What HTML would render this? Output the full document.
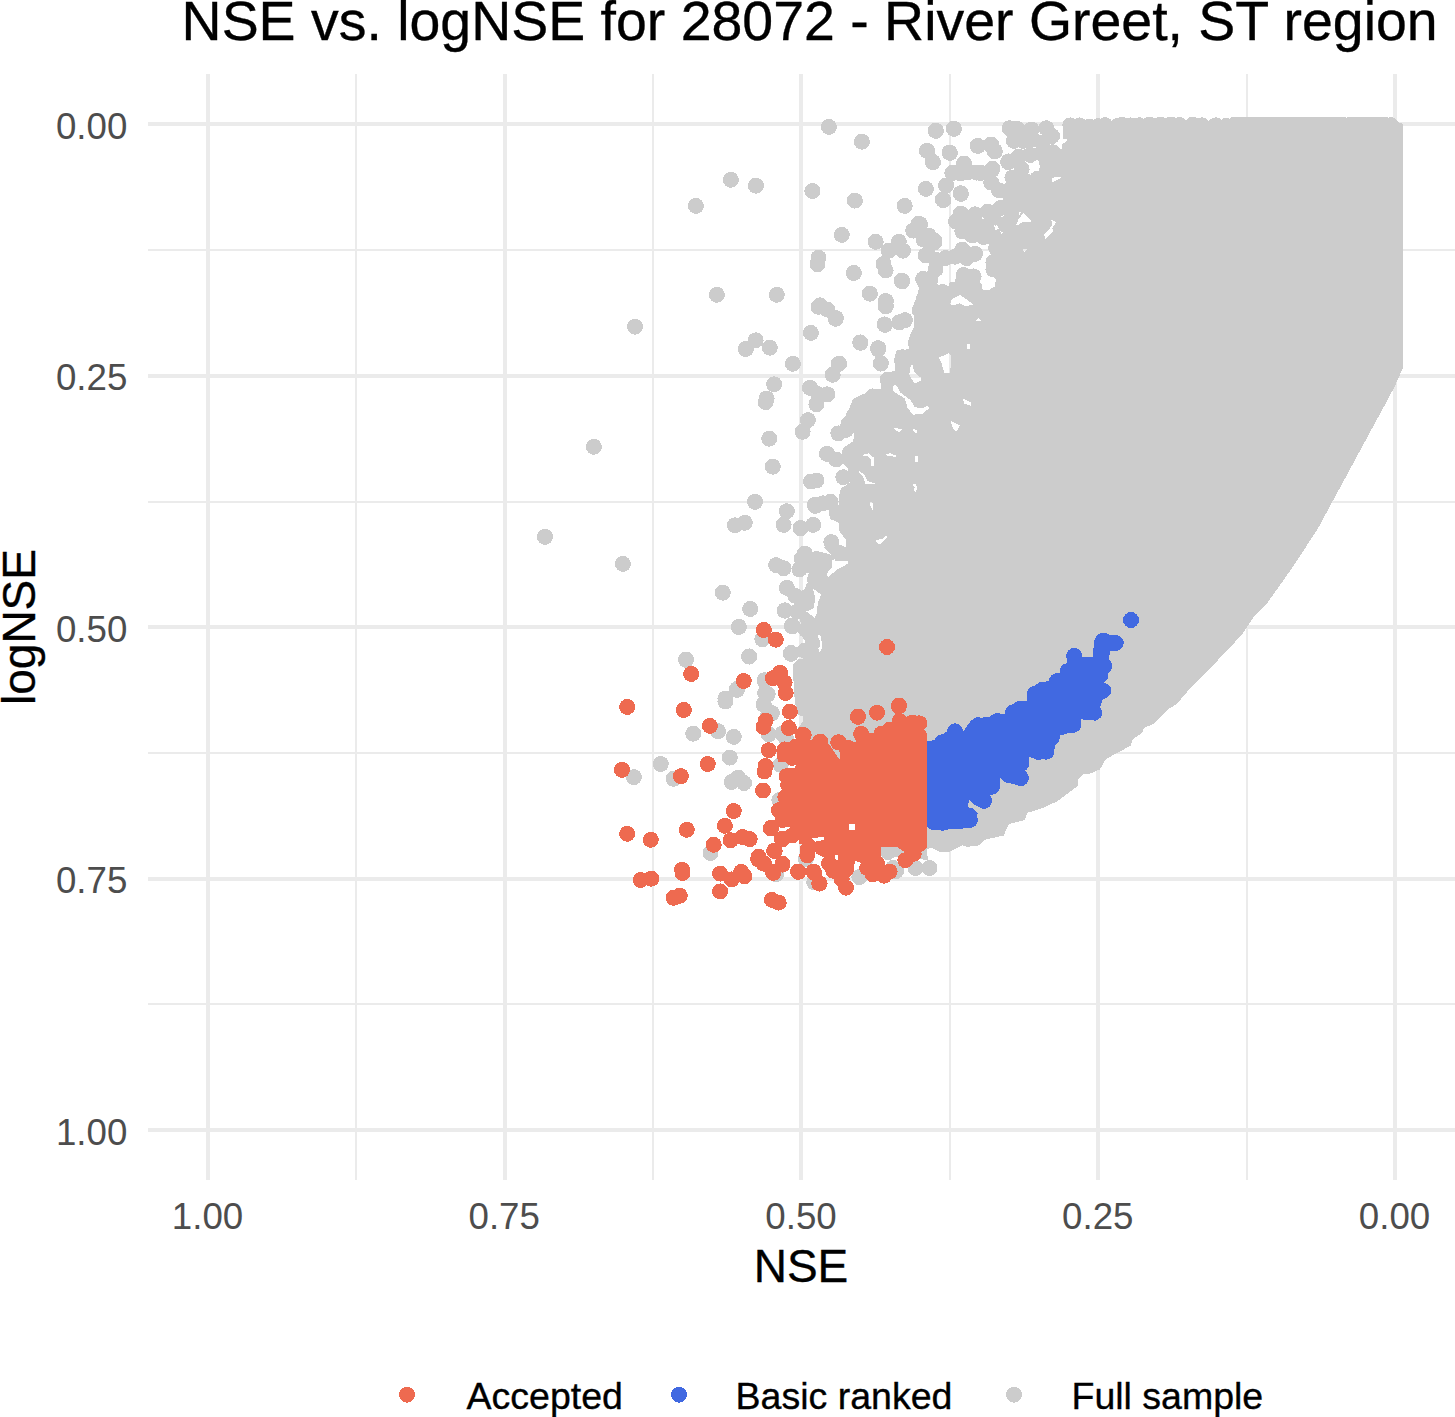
<!DOCTYPE html>
<html><head><meta charset="utf-8"><title>NSE vs. logNSE</title>
<style>
html,body{margin:0;padding:0;background:#fff}
body{width:1455px;height:1417px;position:relative;overflow:hidden;font-family:"Liberation Sans",sans-serif}
.t{position:absolute;white-space:nowrap;line-height:1;font-family:"Liberation Sans",sans-serif}
.k{-webkit-text-stroke:0.35px #000}
</style></head><body>
<svg width="1455" height="1417" viewBox="0 0 1455 1417" style="position:absolute;left:0;top:0">
<g shape-rendering="crispEdges" fill="#EBEBEB">
<rect x="355" y="74" width="2" height="1106"/>
<rect x="652" y="74" width="2" height="1106"/>
<rect x="949" y="74" width="2" height="1106"/>
<rect x="1246" y="74" width="2" height="1106"/>
<rect x="148" y="249" width="1307" height="2"/>
<rect x="148" y="501" width="1307" height="2"/>
<rect x="148" y="752" width="1307" height="2"/>
<rect x="148" y="1003" width="1307" height="2"/>
<rect x="206" y="74" width="4" height="1106"/>
<rect x="503" y="74" width="4" height="1106"/>
<rect x="799" y="74" width="4" height="1106"/>
<rect x="1096" y="74" width="4" height="1106"/>
<rect x="1393" y="74" width="4" height="1106"/>
<rect x="148" y="122" width="1307" height="4"/>
<rect x="148" y="374" width="1307" height="4"/>
<rect x="148" y="625" width="1307" height="4"/>
<rect x="148" y="877" width="1307" height="4"/>
<rect x="148" y="1128" width="1307" height="4"/>
</g>
<g shape-rendering="crispEdges">
<defs><mask id="gm" maskUnits="userSpaceOnUse" x="0" y="0" width="1455" height="1417"><rect x="0" y="0" width="1455" height="1417" fill="#fff"/><path fill="#000" shape-rendering="crispEdges" d="M950.1,304.0 L952.9,298.3 L960.0,294.8 L967.0,299.8 L973.4,304.7 L965.6,306.1 L960.0,303.3 L952.9,305.4Z M938.8,357.6 L948.7,353.4 L951.5,356.2 L950.1,373.2 L944.4,373.2 L941.6,363.3Z M910.6,366.1 L912.7,364.7 L914.1,371.7 L920.5,377.4 L920.5,380.9 L914.8,383.7 L911.3,378.8 L909.2,374.6Z M892.9,385.9 L895.8,384.4 L900.7,392.9 L910.6,400.0 L914.8,407.0 L921.9,408.4 L927.5,405.6 L929.6,407.7 L923.3,413.4 L913.4,414.8 L907.7,408.4 L904.9,398.6 L893.6,391.5Z M950.8,421.1 L960.0,425.4 L956.4,431.7 L952.9,428.2Z M962.8,398.6 L971.3,402.8 L970.6,405.6 L964.2,403.5Z M981.1,282.8 L984.0,280.0 L995.3,280.0 L989.6,285.6 L985.4,289.9Z M860.9,455.3 L868.7,453.2 L874.3,458.1 L873.6,465.9 L871.5,465.9 L870.8,459.5 L867.3,456.0Z M857.4,470.1 L864.4,474.3 L867.3,480.7 L876.4,484.2 L865.2,483.5 L863.7,477.9Z M869.4,502.6 L872.2,501.2 L873.6,510.3 L872.2,510.3Z M875.0,540.7 L882.8,538.6 L886.3,535.0 L887.0,537.1 L880.0,544.9Z M885.6,454.6 L889.9,453.2 L895.5,455.3 L895.5,456.7 L887.0,456.0Z M915.3,456.0 L917.8,456.0 L917.8,461.6 L915.3,461.6Z M912.4,484.2 L915.3,483.5 L917.0,487.7 L916.0,492.0 L914.1,491.3 L914.6,487.0Z M894.1,427.8 L902.6,429.2 L899.0,432.0 L894.8,429.9Z M912.4,429.2 L917.4,429.9 L916.0,434.1Z M1023.5,213.4 L1032.0,221.2 L1027.7,221.2 L1021.4,222.6 L1016.4,226.1 L1017.9,221.2Z M1050.3,219.1 L1056.0,221.9 L1051.7,229.6 L1045.4,238.1 L1044.0,234.6 L1049.6,228.9 L1053.1,223.3Z M993.9,225.4 L998.8,226.1 L996.0,229.9Z M1022.1,248.7 L1027.0,249.4 L1024.2,252.2Z M950.1,304.4 L951.5,300.2 L959.3,295.3 L966.3,299.5 L973.4,304.4 L964.9,306.6 L960.7,303.0Z M967.0,344.0 L969.9,344.0 L969.9,349.6 L967.0,348.9Z M975.5,321.4 L978.3,317.9 L981.2,321.1Z M1051.3,179.0 L1055.5,176.9 L1061.1,176.9 L1059.7,179.0 L1052.7,181.9Z M1023.7,212.9 L1031.5,221.4 L1018.8,222.8 L1016.0,225.6 L1018.8,218.6Z M1050.6,219.3 L1056.2,222.1 L1052.7,224.2Z M1052.7,229.1 L1053.4,231.3 L1045.6,239.0 L1044.2,234.1Z M994.1,226.3 L996.9,224.9 L999.0,229.1 L995.5,229.9Z M1061.1,138.8 L1066.8,139.5 L1066.1,142.3 L1061.8,143.0Z M1060.2,119.1 L1062.1,119.1 L1062.6,132.5 L1060.4,133.2Z M1001.2,179.0 L1004.7,169.2 L1006.8,170.6 L1004.7,176.9Z M812.7,588.2 L821.2,594.6 L817.6,603.7 L817.3,612.9 L814.8,617.9 L806.3,611.5 L813.4,608.7 L815.5,598.8Z M836.0,561.8 L848.4,563.5 L838.1,568.9 L828.2,576.9 L826.4,573.7 L833.4,566.3Z M811.3,546.3 L823.3,547.3 L826.1,550.1 L832.4,555.3 L819.0,551.1Z"/></mask></defs>
<g mask="url(#gm)">
<polygon fill="#CCCCCC" points="1062.5,121.0 1395.0,121.0 1403.0,124.0 1403.0,367.5 1395.2,385.5 1385.7,403.5 1374.1,424.7 1359.2,452.2 1345.5,477.6 1331.7,503.0 1318.0,528.4 1304.2,549.6 1291.5,568.7 1276.7,589.8 1266.1,604.7 1253.4,617.4 1242.6,633.9 1226.8,650.8 1204.2,674.5 1188.4,690.3 1180.0,700.2 1176.2,704.4 1169.1,708.7 1162.1,715.7 1155.0,722.8 1143.7,728.4 1142.3,732.7 1132.4,739.7 1131.0,745.4 1121.1,751.0 1112.7,755.3 1105.6,759.5 1100.0,769.4 1090.1,773.6 1083.5,774.1 1078.5,779.0 1077.8,786.1 1068.0,793.2 1056.7,801.6 1041.1,808.7 1027.0,812.9 1024.9,820.0 1008.7,824.2 1003.7,835.5 984.7,839.7 979.0,845.4 967.7,846.8 962.1,845.4 949.4,851.7 940.9,852.4 931.0,847.5 926.8,849.6 928.0,860.0 880.0,855.0 870.0,840.0 845.0,815.0 815.0,800.0 800.0,760.0 799.0,742.3 796.9,729.6 803.3,721.1 803.3,716.9 797.6,714.1 794.8,701.4 793.4,678.8 792.7,664.7 799.0,659.0 818.8,656.2 822.3,646.3 820.9,636.5 817.4,633.6 816.0,625.0 815.8,620.0 816.5,607.7 821.4,594.3 827.7,586.5 827.7,576.7 836.2,566.8 847.5,562.6 847.5,561.1 834.8,561.1 834.8,555.5 846.1,547.0 846.1,540.0 840.5,532.9 839.0,523.0 829.9,518.8 829.2,510.3 839.0,504.7 839.7,490.6 844.7,486.3 850.3,482.1 847.5,468.0 841.9,462.3 842.6,448.2 853.2,441.2 854.6,432.7 850.3,425.6 858.8,420.0 843.5,419.7 845.6,415.5 849.9,407.0 852.7,400.0 862.6,394.3 883.8,391.5 880.2,381.6 882.3,376.0 895.0,370.3 894.3,359.0 896.5,350.6 909.2,349.2 907.7,342.1 910.6,333.6 914.1,326.6 914.1,316.7 912.0,308.2 916.9,296.9 919.0,288.5 916.9,280.0 917.0,281.0 936.0,281.0 940.0,288.0 948.0,288.0 950.0,282.0 980.0,282.0 983.0,290.0 994.0,290.0 996.0,280.0 990.0,270.0 995.0,240.0 1020.0,215.0 1030.0,180.0 1062.5,165.0"/>
<g fill="#CCCCCC"><circle cx="730.9" cy="179.8" r="8"/><circle cx="755.9" cy="185.7" r="8"/><circle cx="695.9" cy="205.9" r="8"/><circle cx="812.4" cy="191.0" r="8"/><circle cx="716.9" cy="294.8" r="8"/><circle cx="776.8" cy="294.8" r="8"/><circle cx="635.0" cy="326.7" r="8"/><circle cx="755.6" cy="340.3" r="8"/><circle cx="745.9" cy="349.0" r="8"/><circle cx="769.8" cy="347.7" r="8"/><circle cx="792.9" cy="363.8" r="8"/><circle cx="810.9" cy="332.9" r="8"/><circle cx="818.5" cy="257.7" r="8"/><circle cx="817.5" cy="264.1" r="8"/><circle cx="818.5" cy="306.8" r="8"/><circle cx="774.1" cy="384.3" r="8"/><circle cx="766.6" cy="398.5" r="8"/><circle cx="810.0" cy="387.9" r="8"/><circle cx="818.5" cy="394.3" r="8"/><circle cx="828.9" cy="126.9" r="8"/><circle cx="861.9" cy="141.7" r="8"/><circle cx="935.8" cy="130.9" r="8"/><circle cx="953.8" cy="128.6" r="8"/><circle cx="926.9" cy="150.8" r="8"/><circle cx="932.6" cy="161.8" r="8"/><circle cx="949.6" cy="152.5" r="8"/><circle cx="977.7" cy="145.9" r="8"/><circle cx="991.1" cy="144.5" r="8"/><circle cx="994.7" cy="150.8" r="8"/><circle cx="964.0" cy="163.5" r="8"/><circle cx="952.3" cy="173.0" r="8"/><circle cx="968.2" cy="172.0" r="8"/><circle cx="980.9" cy="173.0" r="8"/><circle cx="992.5" cy="168.8" r="8"/><circle cx="1008.4" cy="161.4" r="8"/><circle cx="925.9" cy="188.9" r="8"/><circle cx="946.0" cy="185.7" r="8"/><circle cx="960.8" cy="193.2" r="8"/><circle cx="942.8" cy="199.5" r="8"/><circle cx="854.9" cy="200.6" r="8"/><circle cx="904.7" cy="205.9" r="8"/><circle cx="841.8" cy="234.9" r="8"/><circle cx="918.4" cy="223.9" r="8"/><circle cx="913.2" cy="230.6" r="8"/><circle cx="923.7" cy="239.7" r="8"/><circle cx="934.3" cy="240.8" r="8"/><circle cx="875.7" cy="241.8" r="8"/><circle cx="898.8" cy="241.8" r="8"/><circle cx="888.8" cy="250.7" r="8"/><circle cx="903.0" cy="250.7" r="8"/><circle cx="928.0" cy="254.6" r="8"/><circle cx="936.4" cy="260.9" r="8"/><circle cx="883.5" cy="264.1" r="8"/><circle cx="885.6" cy="270.4" r="8"/><circle cx="853.9" cy="273.0" r="8"/><circle cx="901.9" cy="280.6" r="8"/><circle cx="869.8" cy="293.7" r="8"/><circle cx="885.6" cy="301.1" r="8"/><circle cx="885.6" cy="306.4" r="8"/><circle cx="923.1" cy="278.9" r="8"/><circle cx="930.1" cy="280.0" r="8"/><circle cx="827.4" cy="309.6" r="8"/><circle cx="835.9" cy="318.1" r="8"/><circle cx="820.0" cy="305.4" r="8"/><circle cx="884.6" cy="324.4" r="8"/><circle cx="899.4" cy="322.3" r="8"/><circle cx="904.7" cy="320.2" r="8"/><circle cx="860.2" cy="342.4" r="8"/><circle cx="878.2" cy="348.1" r="8"/><circle cx="880.8" cy="363.6" r="8"/><circle cx="839.1" cy="363.6" r="8"/><circle cx="832.7" cy="374.8" r="8"/><circle cx="827.4" cy="394.3" r="8"/><circle cx="887.7" cy="379.5" r="8"/><circle cx="902.6" cy="357.2" r="8"/><circle cx="872.9" cy="396.4" r="8"/><circle cx="593.9" cy="446.8" r="8"/><circle cx="545.0" cy="536.8" r="8"/><circle cx="622.9" cy="563.9" r="8"/><circle cx="765.6" cy="402.1" r="8"/><circle cx="816.4" cy="404.2" r="8"/><circle cx="807.9" cy="420.1" r="8"/><circle cx="802.6" cy="431.8" r="8"/><circle cx="769.2" cy="438.7" r="8"/><circle cx="772.8" cy="466.7" r="8"/><circle cx="811.1" cy="481.5" r="8"/><circle cx="816.4" cy="480.5" r="8"/><circle cx="755.0" cy="501.8" r="8"/><circle cx="815.3" cy="505.9" r="8"/><circle cx="786.8" cy="511.2" r="8"/><circle cx="783.6" cy="524.9" r="8"/><circle cx="734.9" cy="525.3" r="8"/><circle cx="744.8" cy="522.8" r="8"/><circle cx="800.5" cy="528.1" r="8"/><circle cx="813.2" cy="524.9" r="8"/><circle cx="804.8" cy="553.5" r="8"/><circle cx="801.6" cy="558.8" r="8"/><circle cx="776.2" cy="565.1" r="8"/><circle cx="783.6" cy="568.3" r="8"/><circle cx="799.5" cy="569.4" r="8"/><circle cx="815.3" cy="577.8" r="8"/><circle cx="722.8" cy="592.7" r="8"/><circle cx="786.8" cy="587.8" r="8"/><circle cx="795.2" cy="595.8" r="8"/><circle cx="806.9" cy="596.9" r="8"/><circle cx="750.1" cy="609.0" r="8"/><circle cx="784.6" cy="610.7" r="8"/><circle cx="797.3" cy="611.7" r="8"/><circle cx="738.9" cy="627.0" r="8"/><circle cx="792.1" cy="625.5" r="8"/><circle cx="805.8" cy="629.7" r="8"/><circle cx="762.4" cy="639.2" r="8"/><circle cx="749.1" cy="656.6" r="8"/><circle cx="791.0" cy="653.0" r="8"/><circle cx="686.0" cy="659.8" r="8"/><circle cx="764.5" cy="680.5" r="8"/><circle cx="737.0" cy="689.0" r="8"/><circle cx="725.4" cy="698.5" r="8"/><circle cx="767.7" cy="694.3" r="8"/><circle cx="738.9" cy="626.8" r="8"/><circle cx="762.4" cy="639.1" r="8"/><circle cx="792.1" cy="626.4" r="8"/><circle cx="686.0" cy="659.6" r="8"/><circle cx="749.1" cy="656.4" r="8"/><circle cx="791.0" cy="653.9" r="8"/><circle cx="764.5" cy="680.3" r="8"/><circle cx="737.0" cy="689.9" r="8"/><circle cx="725.4" cy="701.5" r="8"/><circle cx="763.5" cy="704.7" r="8"/><circle cx="771.9" cy="713.2" r="8"/><circle cx="693.2" cy="733.7" r="8"/><circle cx="718.0" cy="731.2" r="8"/><circle cx="733.8" cy="736.9" r="8"/><circle cx="768.8" cy="734.3" r="8"/><circle cx="729.8" cy="757.6" r="8"/><circle cx="660.8" cy="764.0" r="8"/><circle cx="633.9" cy="777.1" r="8"/><circle cx="673.5" cy="778.8" r="8"/><circle cx="731.7" cy="782.0" r="8"/><circle cx="738.1" cy="777.7" r="8"/><circle cx="744.0" cy="783.0" r="8"/><circle cx="779.4" cy="800.0" r="8"/><circle cx="710.5" cy="852.9" r="8"/><circle cx="776.2" cy="874.1" r="8"/><circle cx="805.8" cy="859.2" r="8"/><circle cx="814.3" cy="882.5" r="8"/><circle cx="935.9" cy="130.6" r="8"/><circle cx="953.9" cy="128.9" r="8"/><circle cx="1009.6" cy="128.2" r="8"/><circle cx="1017.4" cy="128.9" r="8"/><circle cx="1031.5" cy="129.6" r="8"/><circle cx="1046.3" cy="128.2" r="8"/><circle cx="1052.0" cy="136.0" r="8"/><circle cx="1070.3" cy="125.4" r="8"/><circle cx="1079.5" cy="125.4" r="8"/><circle cx="1089.4" cy="126.8" r="8"/><circle cx="1097.8" cy="126.1" r="8"/><circle cx="1104.9" cy="125.1" r="8"/><circle cx="1117.6" cy="126.1" r="8"/><circle cx="1013.9" cy="140.9" r="8"/><circle cx="1023.0" cy="140.9" r="8"/><circle cx="1032.9" cy="139.5" r="8"/><circle cx="1042.8" cy="142.3" r="8"/><circle cx="1075.3" cy="136.7" r="8"/><circle cx="1069.6" cy="148.0" r="8"/><circle cx="1061.1" cy="156.5" r="8"/><circle cx="1052.7" cy="152.2" r="8"/><circle cx="977.9" cy="145.9" r="8"/><circle cx="990.6" cy="145.2" r="8"/><circle cx="994.8" cy="151.5" r="8"/><circle cx="927.1" cy="150.8" r="8"/><circle cx="933.0" cy="162.1" r="8"/><circle cx="949.9" cy="152.9" r="8"/><circle cx="964.0" cy="163.5" r="8"/><circle cx="1008.2" cy="162.1" r="8"/><circle cx="1018.8" cy="156.5" r="8"/><circle cx="1030.1" cy="155.0" r="8"/><circle cx="1041.4" cy="153.6" r="8"/><circle cx="952.5" cy="172.7" r="8"/><circle cx="960.9" cy="173.4" r="8"/><circle cx="976.5" cy="172.7" r="8"/><circle cx="992.0" cy="169.9" r="8"/><circle cx="991.3" cy="182.6" r="8"/><circle cx="946.1" cy="185.4" r="8"/><circle cx="925.9" cy="188.9" r="8"/><circle cx="960.9" cy="193.9" r="8"/><circle cx="943.3" cy="200.2" r="8"/><circle cx="1012.4" cy="177.6" r="8"/><circle cx="999.0" cy="190.3" r="8"/><circle cx="1010.3" cy="197.4" r="8"/><circle cx="1024.4" cy="180.5" r="8"/><circle cx="1037.1" cy="179.0" r="8"/><circle cx="1047.0" cy="170.6" r="8"/><circle cx="1055.5" cy="167.7" r="8"/><circle cx="1023.0" cy="193.2" r="8"/><circle cx="1035.7" cy="190.3" r="8"/><circle cx="1047.0" cy="187.5" r="8"/><circle cx="960.9" cy="213.6" r="8"/><circle cx="956.0" cy="221.4" r="8"/><circle cx="975.0" cy="214.3" r="8"/><circle cx="987.7" cy="211.5" r="8"/><circle cx="1000.5" cy="208.0" r="8"/><circle cx="1011.7" cy="205.2" r="8"/><circle cx="1021.6" cy="204.4" r="8"/><circle cx="962.3" cy="231.3" r="8"/><circle cx="972.2" cy="235.5" r="8"/><circle cx="983.5" cy="227.0" r="8"/><circle cx="993.4" cy="235.5" r="8"/><circle cx="1004.7" cy="224.2" r="8"/><circle cx="983.5" cy="236.9" r="8"/><circle cx="994.8" cy="239.7" r="8"/><circle cx="920.0" cy="224.2" r="8"/><circle cx="928.5" cy="235.5" r="8"/><circle cx="934.1" cy="242.6" r="8"/><circle cx="925.6" cy="255.3" r="8"/><circle cx="935.5" cy="259.5" r="8"/><circle cx="962.3" cy="249.6" r="8"/><circle cx="975.0" cy="253.8" r="8"/><circle cx="966.6" cy="258.1" r="8"/><circle cx="955.3" cy="256.7" r="8"/><circle cx="945.4" cy="258.1" r="8"/><circle cx="963.8" cy="275.0" r="8"/><circle cx="973.6" cy="276.4" r="8"/><circle cx="974.3" cy="287.7" r="8"/><circle cx="962.3" cy="283.5" r="8"/><circle cx="928.5" cy="279.3" r="8"/><circle cx="928.5" cy="289.1" r="8"/><circle cx="942.6" cy="292.0" r="8"/><circle cx="955.3" cy="296.2" r="8"/><circle cx="935.5" cy="269.4" r="8"/><circle cx="993.4" cy="269.4" r="8"/><circle cx="993.4" cy="262.3" r="8"/><circle cx="996.2" cy="294.8" r="8"/><circle cx="996.2" cy="248.2" r="8"/><circle cx="999.0" cy="253.8" r="8"/><circle cx="969.4" cy="224.2" r="8"/><circle cx="993.4" cy="220.0" r="8"/><circle cx="1011.7" cy="215.7" r="8"/><circle cx="1021.6" cy="169.2" r="8"/><circle cx="1047.0" cy="162.1" r="8"/><circle cx="1011.7" cy="187.5" r="8"/><circle cx="962.3" cy="293.4" r="8"/><circle cx="869.9" cy="293.7" r="8"/><circle cx="885.9" cy="301.2" r="8"/><circle cx="885.9" cy="306.1" r="8"/><circle cx="902.1" cy="281.4" r="8"/><circle cx="835.8" cy="318.8" r="8"/><circle cx="884.9" cy="324.9" r="8"/><circle cx="899.3" cy="322.3" r="8"/><circle cx="904.9" cy="320.2" r="8"/><circle cx="860.5" cy="342.8" r="8"/><circle cx="878.1" cy="349.2" r="8"/><circle cx="880.9" cy="363.3" r="8"/><circle cx="838.6" cy="364.0" r="8"/><circle cx="924.0" cy="298.3" r="8"/><circle cx="919.7" cy="310.3" r="8"/><circle cx="921.9" cy="322.3" r="8"/><circle cx="916.2" cy="342.1" r="8"/><circle cx="903.5" cy="357.6" r="8"/><circle cx="902.8" cy="364.7" r="8"/><circle cx="888.7" cy="379.5" r="8"/><circle cx="888.7" cy="387.3" r="8"/><circle cx="859.8" cy="404.2" r="8"/><circle cx="854.1" cy="415.5" r="8"/><circle cx="869.6" cy="400.0" r="8"/><circle cx="879.5" cy="397.1" r="8"/><circle cx="848.5" cy="424.0" r="8"/><circle cx="830.6" cy="501.9" r="8"/><circle cx="831.3" cy="542.1" r="8"/><circle cx="827.0" cy="453.9" r="8"/><circle cx="836.2" cy="459.5" r="8"/><circle cx="838.3" cy="433.4" r="8"/><circle cx="846.1" cy="429.9" r="8"/><circle cx="843.3" cy="477.2" r="8"/><circle cx="816.5" cy="559.0" r="8"/><circle cx="824.2" cy="562.6" r="8"/><circle cx="819.3" cy="571.0" r="8"/><circle cx="815.0" cy="579.5" r="8"/><circle cx="801.6" cy="558.7" r="8"/><circle cx="847.5" cy="493.4" r="8"/><circle cx="836.9" cy="513.2" r="8"/><circle cx="846.8" cy="527.3" r="8"/><circle cx="815.0" cy="504.7" r="8"/><circle cx="850.3" cy="455.3" r="8"/><circle cx="856.0" cy="425.6" r="8"/><circle cx="822.8" cy="503.3" r="8"/><circle cx="839.0" cy="552.7" r="8"/><circle cx="809.4" cy="565.4" r="8"/><circle cx="824.9" cy="569.6" r="8"/><circle cx="827.7" cy="554.1" r="8"/><circle cx="810.3" cy="635.0" r="8"/><circle cx="812.4" cy="643.5" r="8"/><circle cx="807.5" cy="618.1" r="8"/><circle cx="816.0" cy="622.3" r="8"/><circle cx="782.1" cy="733.8" r="8"/><circle cx="786.3" cy="739.5" r="8"/><circle cx="780.7" cy="764.9" r="8"/><circle cx="765.2" cy="692.9" r="8"/><circle cx="763.8" cy="704.2" r="8"/><circle cx="768.0" cy="715.5" r="8"/><circle cx="791.3" cy="653.4" r="8"/><circle cx="799.0" cy="611.1" r="8"/><circle cx="784.9" cy="610.3" r="8"/><circle cx="804.7" cy="650.6" r="8"/><circle cx="811.7" cy="653.4" r="8"/><circle cx="813.2" cy="588.5" r="8"/><circle cx="818.8" cy="584.2" r="8"/><circle cx="821.6" cy="596.9" r="8"/><circle cx="818.8" cy="605.4" r="8"/><circle cx="821.6" cy="612.5" r="8"/><circle cx="915.5" cy="868.0" r="8"/><circle cx="929.6" cy="868.0" r="8"/><circle cx="859.4" cy="877.1" r="8"/><circle cx="893.0" cy="868.0" r="8"/><circle cx="888.0" cy="852.0" r="8"/><circle cx="896.0" cy="871.0" r="8"/><circle cx="1122.0" cy="124.9" r="8"/><circle cx="1130.9" cy="125.4" r="8"/><circle cx="1139.3" cy="125.2" r="8"/><circle cx="1149.5" cy="124.5" r="8"/><circle cx="1160.6" cy="124.5" r="8"/><circle cx="1171.2" cy="124.5" r="8"/><circle cx="1179.7" cy="125.0" r="8"/><circle cx="1192.7" cy="124.6" r="8"/><circle cx="1202.0" cy="125.3" r="8"/><circle cx="1215.7" cy="125.3" r="8"/><circle cx="1226.1" cy="125.9" r="8"/><circle cx="1234.4" cy="125.7" r="8"/><circle cx="1235.0" cy="124.6" r="8"/><circle cx="1238.4" cy="124.7" r="8"/><circle cx="1243.8" cy="124.6" r="8"/><circle cx="1248.5" cy="124.9" r="8"/><circle cx="1252.7" cy="124.9" r="8"/><circle cx="1255.9" cy="124.5" r="8"/><circle cx="1259.5" cy="125.0" r="8"/><circle cx="1263.8" cy="124.7" r="8"/><circle cx="1268.5" cy="124.8" r="8"/><circle cx="1272.4" cy="125.1" r="8"/><circle cx="1277.5" cy="124.7" r="8"/><circle cx="1282.2" cy="124.9" r="8"/><circle cx="1287.9" cy="125.0" r="8"/><circle cx="1291.7" cy="125.2" r="8"/><circle cx="1295.1" cy="124.8" r="8"/><circle cx="1300.3" cy="124.6" r="8"/><circle cx="1304.8" cy="124.5" r="8"/><circle cx="1309.8" cy="125.0" r="8"/><circle cx="1314.5" cy="125.1" r="8"/><circle cx="1318.5" cy="125.0" r="8"/><circle cx="1323.3" cy="124.9" r="8"/><circle cx="1327.6" cy="125.1" r="8"/><circle cx="1333.5" cy="124.8" r="8"/><circle cx="1338.5" cy="124.5" r="8"/><circle cx="1343.6" cy="125.0" r="8"/><circle cx="1349.5" cy="125.1" r="8"/><circle cx="1353.4" cy="124.8" r="8"/><circle cx="1358.4" cy="124.5" r="8"/><circle cx="1362.8" cy="124.6" r="8"/><circle cx="1366.1" cy="124.5" r="8"/><circle cx="1371.4" cy="124.6" r="8"/><circle cx="1375.2" cy="124.8" r="8"/><circle cx="1380.8" cy="124.6" r="8"/><circle cx="1385.1" cy="124.9" r="8"/><circle cx="1390.8" cy="125.1" r="8"/><circle cx="806.3" cy="605.9" r="8"/><circle cx="824.7" cy="583.3" r="8"/></g>
</g>
<polygon fill="#4169E1" points="927.1,825.6 927.1,740.9 937.4,740.9 938.1,736.7 947.3,731.3 949.4,726.1 955.0,723.3 960.7,726.1 962.8,732.5 964.9,728.9 970.6,721.2 974.8,717.6 980.0,717.2 980.0,717.9 988.5,722.8 989.2,717.1 996.9,712.9 1004.7,714.3 1006.1,710.1 1012.5,704.4 1020.9,700.5 1027.3,700.5 1027.3,693.2 1033.6,686.1 1042.1,681.9 1049.2,681.2 1049.9,676.9 1056.2,673.4 1059.7,673.4 1060.5,667.7 1066.8,662.8 1066.4,656.5 1068.2,650.1 1074.1,648.0 1080.2,650.8 1081.9,656.5 1092.9,656.5 1094.0,640.9 1098.6,634.6 1105.6,632.7 1110.6,635.3 1118.3,636.0 1123.7,640.9 1123.3,646.6 1117.6,650.8 1110.6,650.8 1108.7,653.6 1108.7,659.3 1112.0,664.2 1111.3,670.6 1107.7,673.4 1107.7,679.0 1104.2,682.6 1110.6,687.5 1110.6,693.9 1104.2,698.8 1102.8,698.8 1100.0,707.3 1102.1,711.5 1101.4,717.1 1095.7,720.7 1088.7,720.0 1080.9,719.3 1080.9,727.0 1070.3,732.7 1060.5,735.5 1059.0,741.1 1054.8,745.4 1054.1,753.8 1047.7,758.1 1037.9,760.2 1029.4,756.7 1029.4,765.1 1022.3,769.4 1028.7,776.4 1028.0,782.1 1020.9,786.3 1013.9,784.2 1004.7,782.1 999.8,776.4 999.8,789.1 994.1,793.4 988.5,794.8 991.3,800.0 991.7,803.0 984.7,808.7 976.2,805.9 969.2,800.2 967.7,807.3 973.4,808.7 977.6,812.9 976.9,820.0 969.2,827.0 959.3,829.1 950.8,829.1 942.3,830.6 932.5,829.9"/>
<g fill="#4169E1"><circle cx="1131.0" cy="620.0" r="8"/><circle cx="1102.8" cy="640.9" r="8"/><circle cx="1115.5" cy="643.0" r="8"/><circle cx="1102.1" cy="652.2" r="8"/><circle cx="1103.9" cy="665.6" r="8"/><circle cx="1074.1" cy="656.0" r="8"/><circle cx="1102.8" cy="690.6" r="8"/><circle cx="1094.0" cy="712.6" r="8"/><circle cx="1067.5" cy="671.3" r="8"/><circle cx="1056.9" cy="681.2" r="8"/><circle cx="1042.1" cy="689.9" r="8"/><circle cx="1035.0" cy="693.9" r="8"/><circle cx="1020.2" cy="708.7" r="8"/><circle cx="1013.2" cy="712.2" r="8"/><circle cx="997.2" cy="721.1" r="8"/><circle cx="986.4" cy="724.9" r="8"/><circle cx="1020.9" cy="778.1" r="8"/><circle cx="1046.3" cy="751.7" r="8"/><circle cx="1073.2" cy="724.9" r="8"/><circle cx="1007.5" cy="774.3" r="8"/><circle cx="955.0" cy="731.3" r="8"/><circle cx="978.3" cy="725.1" r="8"/><circle cx="997.4" cy="721.2" r="8"/><circle cx="942.3" cy="742.3" r="8"/><circle cx="934.6" cy="748.0" r="8"/><circle cx="1045.4" cy="751.5" r="8"/><circle cx="1020.7" cy="777.6" r="8"/><circle cx="991.7" cy="786.8" r="8"/><circle cx="984.0" cy="800.9" r="8"/><circle cx="969.9" cy="820.0" r="8"/><circle cx="959.3" cy="821.4" r="8"/><circle cx="942.3" cy="822.8" r="8"/><circle cx="933.9" cy="822.1" r="8"/><circle cx="1021.4" cy="763.5" r="8"/></g>
<path fill="#EE6A50" fill-rule="evenodd" d="M927.1,733.9 L927.1,841.1 L921.5,852.4 L905.3,852.4 L896.8,846.8 L881.3,846.8 L881.3,862.3 L867.1,865.1 L855.2,860.9 L853.0,869.4 L826.2,869.4 L824.8,858.1 L816.3,853.8 L812.1,844.0 L799.4,844.0 L798.0,832.7 L789.5,827.0 L778.2,824.2 L774.0,812.9 L780.3,801.6 L780.3,793.2 L790.9,791.7 L785.3,784.7 L780.3,776.2 L782.5,769.2 L795.2,767.7 L796.6,762.1 L778.2,762.1 L776.8,755.0 L778.2,746.6 L796.6,742.3 L812.1,742.3 L829.0,743.8 L840.3,760.7 L840.3,745.2 L854.4,742.3 L870.0,735.3 L882.7,728.2 L891.1,722.6 L905.3,716.9 L919.4,721.2Z M848.8,823.5 L855.2,823.5 L855.2,829.9 L848.8,829.9Z M812.1,838.3 L824.1,836.6 L824.1,839.7 L814.9,841.8Z M834.7,854.6 L838.2,854.6 L838.2,860.2 L835.4,859.5Z"/>
<g fill="#EE6A50"><circle cx="763.9" cy="630.0" r="8"/><circle cx="775.8" cy="639.7" r="8"/><circle cx="691.1" cy="674.0" r="8"/><circle cx="743.8" cy="681.0" r="8"/><circle cx="780.0" cy="672.9" r="8"/><circle cx="773.0" cy="678.2" r="8"/><circle cx="784.6" cy="682.5" r="8"/><circle cx="785.7" cy="693.0" r="8"/><circle cx="627.1" cy="707.0" r="8"/><circle cx="683.9" cy="710.0" r="8"/><circle cx="789.9" cy="711.7" r="8"/><circle cx="765.6" cy="720.6" r="8"/><circle cx="763.5" cy="726.9" r="8"/><circle cx="709.9" cy="725.9" r="8"/><circle cx="788.9" cy="728.0" r="8"/><circle cx="803.7" cy="735.4" r="8"/><circle cx="768.8" cy="750.2" r="8"/><circle cx="765.6" cy="766.1" r="8"/><circle cx="764.5" cy="771.4" r="8"/><circle cx="622.0" cy="769.9" r="8"/><circle cx="707.8" cy="764.0" r="8"/><circle cx="680.9" cy="776.2" r="8"/><circle cx="763.0" cy="790.6" r="8"/><circle cx="733.8" cy="811.0" r="8"/><circle cx="724.9" cy="825.8" r="8"/><circle cx="686.8" cy="829.8" r="8"/><circle cx="627.1" cy="833.8" r="8"/><circle cx="650.8" cy="839.8" r="8"/><circle cx="730.7" cy="840.2" r="8"/><circle cx="742.3" cy="837.0" r="8"/><circle cx="749.7" cy="839.1" r="8"/><circle cx="713.7" cy="844.8" r="8"/><circle cx="682.0" cy="869.8" r="8"/><circle cx="682.6" cy="873.0" r="8"/><circle cx="640.7" cy="880.0" r="8"/><circle cx="651.3" cy="878.7" r="8"/><circle cx="720.1" cy="873.6" r="8"/><circle cx="731.7" cy="879.4" r="8"/><circle cx="741.2" cy="871.9" r="8"/><circle cx="744.4" cy="876.2" r="8"/><circle cx="673.5" cy="897.8" r="8"/><circle cx="679.8" cy="895.7" r="8"/><circle cx="720.1" cy="891.4" r="8"/><circle cx="771.9" cy="899.9" r="8"/><circle cx="778.7" cy="902.6" r="8"/><circle cx="758.2" cy="859.2" r="8"/><circle cx="763.5" cy="863.5" r="8"/><circle cx="773.0" cy="871.9" r="8"/><circle cx="782.5" cy="864.5" r="8"/><circle cx="774.1" cy="850.8" r="8"/><circle cx="782.5" cy="839.1" r="8"/><circle cx="770.9" cy="828.5" r="8"/><circle cx="779.4" cy="810.5" r="8"/><circle cx="786.8" cy="776.7" r="8"/><circle cx="798.4" cy="871.9" r="8"/><circle cx="814.3" cy="873.0" r="8"/><circle cx="819.6" cy="883.6" r="8"/><circle cx="858.0" cy="716.6" r="8"/><circle cx="877.0" cy="712.7" r="8"/><circle cx="899.0" cy="705.6" r="8"/><circle cx="820.2" cy="741.6" r="8"/><circle cx="838.6" cy="742.3" r="8"/><circle cx="861.1" cy="733.8" r="8"/><circle cx="784.9" cy="749.4" r="8"/><circle cx="796.2" cy="746.5" r="8"/><circle cx="803.3" cy="735.3" r="8"/><circle cx="790.6" cy="756.4" r="8"/><circle cx="799.0" cy="756.4" r="8"/><circle cx="818.8" cy="753.6" r="8"/><circle cx="847.0" cy="749.4" r="8"/><circle cx="887.0" cy="647.0" r="8"/><circle cx="919.4" cy="723.3" r="8"/><circle cx="912.3" cy="722.6" r="8"/><circle cx="898.9" cy="706.4" r="8"/><circle cx="899.6" cy="721.2" r="8"/><circle cx="889.7" cy="729.6" r="8"/><circle cx="881.3" cy="733.9" r="8"/><circle cx="861.5" cy="734.6" r="8"/><circle cx="871.4" cy="740.9" r="8"/><circle cx="838.2" cy="742.3" r="8"/><circle cx="848.8" cy="748.0" r="8"/><circle cx="819.9" cy="742.3" r="8"/><circle cx="802.9" cy="734.6" r="8"/><circle cx="809.3" cy="748.0" r="8"/><circle cx="796.6" cy="748.0" r="8"/><circle cx="784.6" cy="750.8" r="8"/><circle cx="792.3" cy="757.9" r="8"/><circle cx="786.7" cy="776.2" r="8"/><circle cx="788.1" cy="784.7" r="8"/><circle cx="785.3" cy="797.4" r="8"/><circle cx="778.9" cy="810.1" r="8"/><circle cx="782.5" cy="820.0" r="8"/><circle cx="771.2" cy="827.7" r="8"/><circle cx="781.8" cy="839.0" r="8"/><circle cx="792.3" cy="835.5" r="8"/><circle cx="774.7" cy="851.0" r="8"/><circle cx="807.9" cy="849.6" r="8"/><circle cx="807.2" cy="855.3" r="8"/><circle cx="833.3" cy="870.8" r="8"/><circle cx="846.0" cy="869.4" r="8"/><circle cx="846.0" cy="887.7" r="8"/><circle cx="841.7" cy="879.3" r="8"/><circle cx="829.0" cy="863.7" r="8"/><circle cx="872.8" cy="874.3" r="8"/><circle cx="884.1" cy="875.7" r="8"/><circle cx="889.7" cy="871.5" r="8"/><circle cx="867.1" cy="868.0" r="8"/><circle cx="905.3" cy="860.2" r="8"/><circle cx="913.7" cy="853.8" r="8"/><circle cx="919.4" cy="844.0" r="8"/><circle cx="858.0" cy="716.9" r="8"/><circle cx="877.0" cy="712.7" r="8"/><circle cx="758.5" cy="856.7" r="8"/><circle cx="764.1" cy="863.7" r="8"/><circle cx="773.3" cy="872.9" r="8"/><circle cx="782.5" cy="863.7" r="8"/><circle cx="798.0" cy="871.5" r="8"/><circle cx="813.5" cy="871.5" r="8"/><circle cx="819.2" cy="883.5" r="8"/><circle cx="877.0" cy="863.7" r="8"/></g>
<circle cx="407" cy="1394.7" r="8" fill="#EE6A50"/><circle cx="679" cy="1394.7" r="8" fill="#4169E1"/><circle cx="1014" cy="1394.7" r="8" fill="#CCCCCC"/>
</g></svg>
<div class="t k" style="left:181.6px;top:-5.6px;font-size:55.45px;color:#000;">NSE vs. logNSE for 28072 - River Greet, ST region</div>
<div class="t" style="right:1327.7px;top:108.6px;font-size:36.7px;color:#4D4D4D;">0.00</div>
<div class="t" style="right:1327.7px;top:360.1px;font-size:36.7px;color:#4D4D4D;">0.25</div>
<div class="t" style="right:1327.7px;top:611.6px;font-size:36.7px;color:#4D4D4D;">0.50</div>
<div class="t" style="right:1327.7px;top:863.1px;font-size:36.7px;color:#4D4D4D;">0.75</div>
<div class="t" style="right:1327.7px;top:1114.6px;font-size:36.7px;color:#4D4D4D;">1.00</div>
<div class="t" style="left:207.5px;transform:translateX(-50%);top:1198.6px;font-size:36.7px;color:#4D4D4D;">1.00</div>
<div class="t" style="left:504.2px;transform:translateX(-50%);top:1198.6px;font-size:36.7px;color:#4D4D4D;">0.75</div>
<div class="t" style="left:801.0px;transform:translateX(-50%);top:1198.6px;font-size:36.7px;color:#4D4D4D;">0.50</div>
<div class="t" style="left:1097.8px;transform:translateX(-50%);top:1198.6px;font-size:36.7px;color:#4D4D4D;">0.25</div>
<div class="t" style="left:1394.5px;transform:translateX(-50%);top:1198.6px;font-size:36.7px;color:#4D4D4D;">0.00</div>
<div class="t k" style="left:801.0px;transform:translateX(-50%);top:1242.9px;font-size:46px;color:#000;">NSE</div>
<div class="t k" style="left:35px;top:627px;font-size:46px;transform-origin:0 0;transform:rotate(-90deg) translate(-50%,-38.9px)">logNSE</div>
<div class="t k" style="left:466.6px;top:1378.1px;font-size:37.5px;color:#000;">Accepted</div>
<div class="t k" style="left:735.6px;top:1378.1px;font-size:37.5px;color:#000;">Basic ranked</div>
<div class="t k" style="left:1071.5px;top:1378.1px;font-size:37.5px;color:#000;">Full sample</div>
</body></html>
